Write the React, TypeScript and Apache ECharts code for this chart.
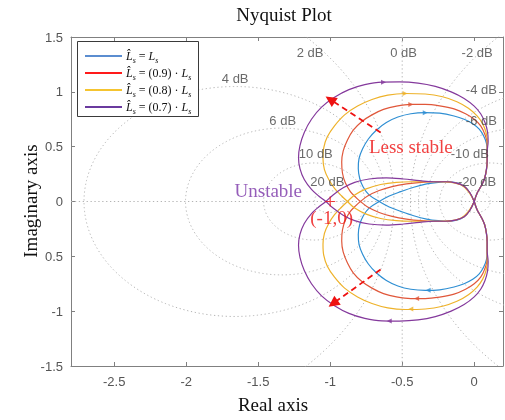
import React, { useEffect, useRef } from "react";
import * as echarts from "echarts";

// ---------- data ----------
const xTicks = [-2.5, -2, -1.5, -1, -0.5, 0];
const yTicks = [-1.5, -1, -0.5, 0, 0.5, 1, 1.5];
const yTickLabels = ["-1.5", "-1", "0.5", "0", "0.5", "1", "1.5"];

// closed-loop magnitude contours (M-circles), dB
const mCircleDb = [-20, -10, -6, -4, -2, 2, 4, 6, 10, 20];
const dbLabelText = ["2 dB", "0 dB", "-2 dB", "4 dB", "-4 dB", "6 dB", "-6 dB", "10 dB", "-10 dB", "20 dB", "-20 dB"];
const dbLabelPos = [
  [-1.14, 1.36], [-0.49, 1.36], [0.02, 1.36], [-1.66, 1.12], [0.05, 1.02],
  [-1.33, 0.74], [0.05, 0.74], [-1.1, 0.44], [-0.03, 0.44], [-1.02, 0.18], [0.02, 0.18],
];

const seriesNames = ["Ls", "0.9 Ls", "0.8 Ls", "0.7 Ls"];
const curveColors = ["#2f8fd3", "#e0573a", "#eeb22a", "#84399c"];
const legendColors = ["#5b8dd0", "#ff1a1a", "#f5c430", "#6a3a9e"];

// positive-frequency branches (the negative branch is their conjugate)
const blueUpper = [
  [0, 0], [0.02, 0.075], [0.05, 0.145], [0.072, 0.21], [0.085, 0.29], [0.09, 0.37], [0.09, 0.45],
  [0.085, 0.53], [0.065, 0.6], [0.035, 0.66], [-0.01, 0.71], [-0.07, 0.75], [-0.14, 0.78], [-0.24, 0.805],
  [-0.34, 0.81], [-0.44, 0.8], [-0.53, 0.77], [-0.61, 0.72], [-0.68, 0.65], [-0.735, 0.57], [-0.775, 0.48],
  [-0.8, 0.39], [-0.805, 0.3], [-0.795, 0.21], [-0.77, 0.13], [-0.73, 0.06], [-0.66, 0], [-0.59, -0.05],
  [-0.51, -0.09], [-0.42, -0.13], [-0.33, -0.16], [-0.25, -0.175], [-0.18, -0.18], [-0.12, -0.17],
  [-0.07, -0.14], [-0.03, -0.08], [0, 0],
];
const redUpper = [
  [0, 0], [0.02, 0.075], [0.05, 0.145], [0.072, 0.21], [0.085, 0.29], [0.09, 0.37], [0.09, 0.45],
  [0.09, 0.53], [0.075, 0.61], [0.045, 0.69], [0.0, 0.75], [-0.06, 0.8], [-0.14, 0.845], [-0.24, 0.872],
  [-0.34, 0.885], [-0.44, 0.885], [-0.54, 0.87], [-0.63, 0.84], [-0.71, 0.79], [-0.78, 0.73], [-0.84, 0.65],
  [-0.88, 0.56], [-0.91, 0.46], [-0.92, 0.36], [-0.915, 0.26], [-0.895, 0.17], [-0.86, 0.09], [-0.82, 0.035],
  [-0.79, 0], [-0.74, -0.05], [-0.66, -0.1], [-0.57, -0.135], [-0.47, -0.16], [-0.37, -0.175], [-0.28, -0.18],
  [-0.2, -0.18], [-0.13, -0.17], [-0.07, -0.14], [-0.03, -0.08], [0, 0],
];
const yellowUpper = [
  [0, 0], [0.02, 0.075], [0.05, 0.145], [0.072, 0.21], [0.085, 0.29], [0.09, 0.37], [0.09, 0.45],
  [0.092, 0.54], [0.082, 0.63], [0.058, 0.71], [0.02, 0.78], [-0.04, 0.85], [-0.12, 0.91], [-0.22, 0.955],
  [-0.34, 0.98], [-0.48, 0.985], [-0.6, 0.97], [-0.71, 0.93], [-0.81, 0.87], [-0.9, 0.79], [-0.97, 0.69],
  [-1.02, 0.59], [-1.045, 0.49], [-1.05, 0.39], [-1.04, 0.29], [-1.01, 0.2], [-0.97, 0.12], [-0.92, 0.05],
  [-0.88, 0], [-0.83, -0.06], [-0.75, -0.115], [-0.65, -0.155], [-0.54, -0.175], [-0.43, -0.18], [-0.33, -0.18],
  [-0.24, -0.18], [-0.16, -0.175], [-0.09, -0.15], [-0.04, -0.09], [0, 0],
];
const purpleUpper = [
  [0, 0], [0.02, 0.075], [0.05, 0.145], [0.072, 0.21], [0.085, 0.29], [0.09, 0.37], [0.09, 0.45],
  [0.097, 0.55], [0.092, 0.64], [0.075, 0.72], [0.045, 0.8], [0.0, 0.87], [-0.07, 0.94], [-0.16, 1.0],
  [-0.27, 1.05], [-0.39, 1.08], [-0.52, 1.09], [-0.64, 1.088], [-0.76, 1.065], [-0.87, 1.02], [-0.97, 0.95],
  [-1.06, 0.86], [-1.13, 0.75], [-1.18, 0.63], [-1.21, 0.51], [-1.22, 0.4], [-1.21, 0.3], [-1.18, 0.2],
  [-1.13, 0.11], [-1.08, 0.05], [-1.03, 0], [-0.98, -0.06], [-0.91, -0.125], [-0.83, -0.175], [-0.73, -0.205],
  [-0.61, -0.215], [-0.49, -0.205], [-0.38, -0.19], [-0.28, -0.18], [-0.2, -0.18], [-0.13, -0.17],
  [-0.07, -0.14], [-0.03, -0.08], [0, 0],
];

// frequency-direction markers
const markersTop = [[-0.34, 0.81], [-0.44, 0.885], [-0.48, 0.985], [-0.63, 1.088]];
const markersBottom = [[-0.32, -0.81], [-0.4, -0.885], [-0.44, -0.98], [-0.59, -1.09]];

// dashed red arrows ("less stable" direction)
const arrowUpper = [[-0.65, 0.63], [-1.0, 0.93]];
const arrowLower = [[-0.65, -0.62], [-0.98, -0.93]];

const annotations = [
  { text: "Less stable", pos: [-0.44, 0.5], color: "#ee1111" },
  { text: "Unstable", pos: [-1.43, 0.1], color: "#7a35a8" },
  { text: "(-1,0)", pos: [-0.99, -0.15], color: "#ee1111" },
];
const criticalPoint = [-1, 0];

const legendLabels = ["", "(0.9) · ", "(0.8) · ", "(0.7) · "];

// ---------- helpers ----------
function mCircle(db: number) {
  const M = Math.pow(10, db / 20);
  const c = -(M * M) / (M * M - 1);
  const r = Math.abs(M / (M * M - 1));
  const pts: number[][] = [];
  for (let a = 0; a <= 720; a++) {
    const t = (a / 720) * Math.PI * 2;
    pts.push([c + r * Math.cos(t), r * Math.sin(t)]);
  }
  return pts;
}
const conj = (pts: number[][]) => pts.map((p) => [p[0], -p[1]]);

export default function App() {
  const ref = useRef<HTMLDivElement>(null);
  useEffect(() => {
    if (!ref.current) return;
    const chart = echarts.init(ref.current, null, { renderer: "svg" });
    const gridLine = { color: "#b4b4b4", width: 1, type: [1.3, 2.6] as any };
    const series: any[] = [];
    mCircleDb.forEach((db) => {
      series.push({
        type: "line", data: mCircle(db), showSymbol: false, silent: true, clip: true,
        lineStyle: gridLine, z: 1,
      });
    });
    series.push({ type: "line", data: [[-0.5, -1.5], [-0.5, 1.5]], showSymbol: false, silent: true, lineStyle: gridLine, z: 1 });
    series.push({ type: "line", data: [[-2.8, 0], [0.2, 0]], showSymbol: false, silent: true, lineStyle: gridLine, z: 1 });

    const curves = [blueUpper, redUpper, yellowUpper, purpleUpper];
    curves.forEach((c, i) => {
      [c, conj(c)].forEach((branch) => {
        series.push({
          name: seriesNames[i], type: "line", data: branch, showSymbol: false, smooth: 0.35,
          lineStyle: { color: curveColors[i], width: 1.2 }, z: 3, silent: true,
        });
      });
    });
    series.push({
      type: "scatter", symbol: "triangle", symbolSize: 5, z: 4, silent: true,
      data: [
        ...markersTop.map((p, i) => ({ value: p, symbolRotate: -90, itemStyle: { color: curveColors[i] } })),
        ...markersBottom.map((p, i) => ({ value: p, symbolRotate: 90, itemStyle: { color: curveColors[i] } })),
      ],
    });
    series.push({
      type: "lines", coordinateSystem: "cartesian2d", z: 5, silent: true,
      symbol: ["none", "triangle"], symbolSize: [9, 11],
      lineStyle: { color: "#ee1111", width: 1.8, type: [6, 4], opacity: 1 },
      data: [{ coords: arrowUpper }, { coords: arrowLower }],
    });
    series.push({
      type: "scatter", z: 5, silent: true, symbolSize: 10,
      symbol: "path://M4.4,0h1.2v4.4h4.4v1.2h-4.4v4.4h-1.2v-4.4h-4.4v-1.2h4.4z",
      itemStyle: { color: "#ee1111" }, data: [criticalPoint],
    });
    series.push({
      type: "scatter", z: 6, silent: true, symbolSize: 1, itemStyle: { color: "rgba(0,0,0,0)" },
      label: { show: true, position: "inside", formatter: (p: any) => p.name, color: "#454545", fontSize: 13, fontFamily: "Liberation Sans" },
      data: dbLabelText.map((t, i) => ({ name: t, value: dbLabelPos[i] })),
    });
    series.push({
      type: "scatter", z: 7, silent: true, symbolSize: 1, itemStyle: { color: "rgba(0,0,0,0)" },
      data: annotations.map((a) => ({
        name: a.text, value: a.pos,
        label: { show: true, position: "inside", formatter: a.text, color: a.color, fontSize: 19, fontFamily: "Liberation Serif" },
      })),
    });

    const axisLineStyle = { color: "#808080", width: 1 };
    const legendGraphics: any[] = [
      { type: "rect", z: 100, shape: { x: 77.5, y: 41.5, width: 121, height: 75 }, style: { fill: "#fff", stroke: "#3a3a3a", lineWidth: 1 } },
    ];
    legendLabels.forEach((lbl, i) => {
      const y = 56 + i * 17;
      legendGraphics.push({ type: "line", z: 101, shape: { x1: 85, y1: y, x2: 122, y2: y }, style: { stroke: legendColors[i], lineWidth: 2 } });
      legendGraphics.push({
        type: "text", z: 101, x: 126, y: y,
        style: {
          text: `{i|L\u0302}{s|s}{n| = ${lbl}}{i|L}{s|s}`,
          verticalAlign: "middle", align: "left", fill: "#111",
          rich: {
            i: { fontFamily: "Liberation Serif", fontStyle: "italic", fontSize: 12, lineHeight: 16, verticalAlign: "middle", fill: "#111" },
            n: { fontFamily: "Liberation Serif", fontSize: 12, lineHeight: 16, verticalAlign: "middle", fill: "#111" },
            s: { fontFamily: "Liberation Serif", fontStyle: "italic", fontSize: 8, lineHeight: 16, verticalAlign: "bottom", fill: "#111" },
          },
        },
      });
    });

    chart.setOption({
      animation: false,
      grid: { left: 71, right: 2, top: 37, bottom: 54 },
      xAxis: [
        {
          type: "value", min: -2.8, max: 0.2, position: "bottom",
          axisLine: { show: true, onZero: false, lineStyle: axisLineStyle },
          axisTick: { show: true, inside: true, length: 4, customValues: xTicks, lineStyle: axisLineStyle },
          axisLabel: { customValues: xTicks, color: "#555", fontSize: 13, fontFamily: "Liberation Sans", margin: 9, formatter: (v: number) => String(v) },
          splitLine: { show: false },
        },
        {
          type: "value", min: -2.8, max: 0.2, position: "top",
          axisLine: { show: true, onZero: false, lineStyle: axisLineStyle },
          axisTick: { show: true, inside: true, length: 4, customValues: xTicks, lineStyle: axisLineStyle },
          axisLabel: { show: false }, splitLine: { show: false },
        },
      ],
      yAxis: [
        {
          type: "value", min: -1.5, max: 1.5, interval: 0.5, position: "left",
          axisLine: { show: true, onZero: false, lineStyle: axisLineStyle },
          axisTick: { show: true, inside: true, length: 4, lineStyle: axisLineStyle },
          axisLabel: {
            color: "#555", fontSize: 13, fontFamily: "Liberation Sans", margin: 8,
            formatter: (v: number) => { const k = yTicks.findIndex((t) => Math.abs(t - v) < 1e-9); return k >= 0 ? yTickLabels[k] : ""; },
          },
          splitLine: { show: false },
        },
        {
          type: "value", min: -1.5, max: 1.5, interval: 0.5, position: "right",
          axisLine: { show: true, onZero: false, lineStyle: axisLineStyle },
          axisTick: { show: true, inside: true, length: 4, lineStyle: axisLineStyle },
          axisLabel: { show: false }, splitLine: { show: false },
        },
      ],
      graphic: [
        { type: "text", z: 100, x: 284, y: 14, style: { text: "Nyquist Plot", font: '19px "Liberation Serif"', fill: "#111", align: "center", verticalAlign: "middle" } },
        { type: "text", z: 100, x: 273, y: 404, style: { text: "Real axis", font: '19px "Liberation Serif"', fill: "#111", align: "center", verticalAlign: "middle" } },
        { type: "text", z: 100, x: 30, y: 201, rotation: Math.PI / 2, style: { text: "Imaginary axis", font: '19px "Liberation Serif"', fill: "#111", align: "center", verticalAlign: "middle" } },
        ...legendGraphics,
      ],
      series,
    });
    return () => chart.dispose();
  }, []);
  return <div ref={ref} style={{ position: "fixed", left: 0, top: 0, width: 505, height: 420 }} />;
}
